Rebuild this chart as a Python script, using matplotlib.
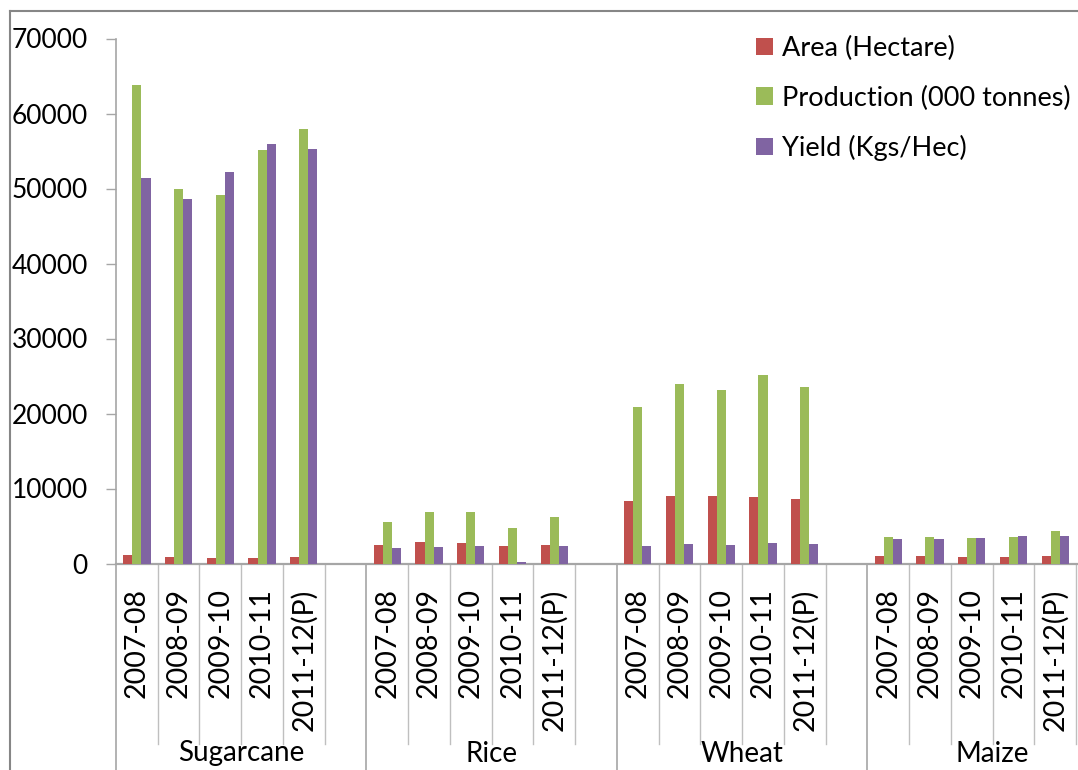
import numpy as np
import matplotlib.pyplot as plt
from matplotlib.lines import Line2D

plt.rcParams['font.family'] = ['Lato', 'DejaVu Sans']

# Crops and seasons (each crop block ends with one empty slot)
crops = ["Sugarcane", "Rice", "Wheat", "Maize"]
years = ["2007-08", "2008-09", "2009-10", "2010-11", "2011-12(P)"]
series = ["Area (Hectare)", "Production (000 tonnes)", "Yield (Kgs/Hec)"]

# Values per crop, in the order of the seasons above
area = [
    [1070, 930, 800, 800, 930],        # Sugarcane
    [2490, 2890, 2760, 2360, 2490],    # Rice
    [8400, 8980, 8980, 8840, 8580],    # Wheat
    [1020, 1020, 890, 890, 1020],      # Maize
]
production = [
    [63800, 49900, 49200, 55200, 57900],
    [5510, 6840, 6840, 4800, 6180],
    [20900, 23900, 23200, 25100, 23470],
    [3560, 3560, 3420, 3560, 4270],
]
yield_kg = [
    [51400, 48600, 52200, 55900, 55300],
    [2090, 2220, 2360, 220, 2360],
    [2310, 2580, 2440, 2710, 2580],
    [3290, 3290, 3420, 3690, 3690],
]
colors = ["#C0504D", "#9BBB59", "#8064A2"]

slots_per_crop = len(years) + 1
W, H = 1078, 770
fig = plt.figure(figsize=(W / 100, H / 100), dpi=100)

# plot area in pixels: y-axis at x=116, zero line at y=563.5, top (70000) at y=38.5
slot_px = 41.74
ax_left, ax_bottom, ax_top = 116, 563.5, 38.5
ax = fig.add_axes([ax_left / W, 1 - ax_bottom / H, 1 - ax_left / W, (ax_bottom - ax_top) / H])
ax_h_px = ax_bottom - ax_top

bar_w = 0.218
for ci, crop in enumerate(crops):
    x = np.arange(len(years)) + ci * slots_per_crop
    for si, vals in enumerate([area, production, yield_kg]):
        ax.bar(x + (si - 1) * bar_w, vals[ci], width=bar_w, color=colors[si],
               label=series[si] if ci == 0 else None, zorder=3)

ax.set_xlim(-0.5, -0.5 + (W - ax_left) / slot_px)
ax.set_ylim(0, 70000)
ax.set_yticks(np.arange(0, 70001, 10000))
ax.set_xticks([])

axis_col = "#A6A6A6"
for s in ["top", "right"]:
    ax.spines[s].set_visible(False)
ax.spines["left"].set_color(axis_col)
ax.spines["bottom"].set_color(axis_col)
ax.spines["left"].set_linewidth(1.2)
ax.spines["bottom"].set_linewidth(1.6)
ax.tick_params(axis="y", length=7.2, width=1, color=axis_col, pad=13,
               labelsize=19, labelcolor="black")

# two-level category axis below the plot
tr = ax.get_xaxis_transform()
def below(px):
    return -px / ax_h_px

for ci, crop in enumerate(crops):
    base = ci * slots_per_crop
    ax.add_line(Line2D([base - 0.5, base - 0.5], [0, below(215)], transform=tr,
                       color=axis_col, lw=1.2, clip_on=False))
    for k in range(1, len(years) + 1):
        xk = base + k - 0.5
        ax.add_line(Line2D([xk, xk], [0, below(180)], transform=tr,
                           color="#BFBFBF", lw=1.0, clip_on=False))
    for yi, yr in enumerate(years):
        ax.text(base + yi, below(25), yr, transform=tr, rotation=90,
                ha="center", va="top", fontsize=20.5, clip_on=False)
    ax.text(base + (slots_per_crop - 1) / 2, below(190), crop, transform=tr,
            ha="center", va="center", fontsize=20, clip_on=False)

ax.legend(loc="upper left", bbox_to_anchor=(756 / W, 1 - 36 / H),
          bbox_transform=fig.transFigure, frameon=False, fontsize=19.5,
          handlelength=0.62, handleheight=0.62, handletextpad=0.33,
          labelspacing=0.9, borderpad=0, borderaxespad=0)

# chart border (top and left edges)
border_col = "#868686"
fig.add_artist(Line2D([10 / W, 1], [1 - 11 / H, 1 - 11 / H], transform=fig.transFigure,
                      color=border_col, lw=1.5))
fig.add_artist(Line2D([10 / W, 10 / W], [0, 1 - 11 / H], transform=fig.transFigure,
                      color=border_col, lw=1.5))

fig.savefig("out.png", dpi=100)
